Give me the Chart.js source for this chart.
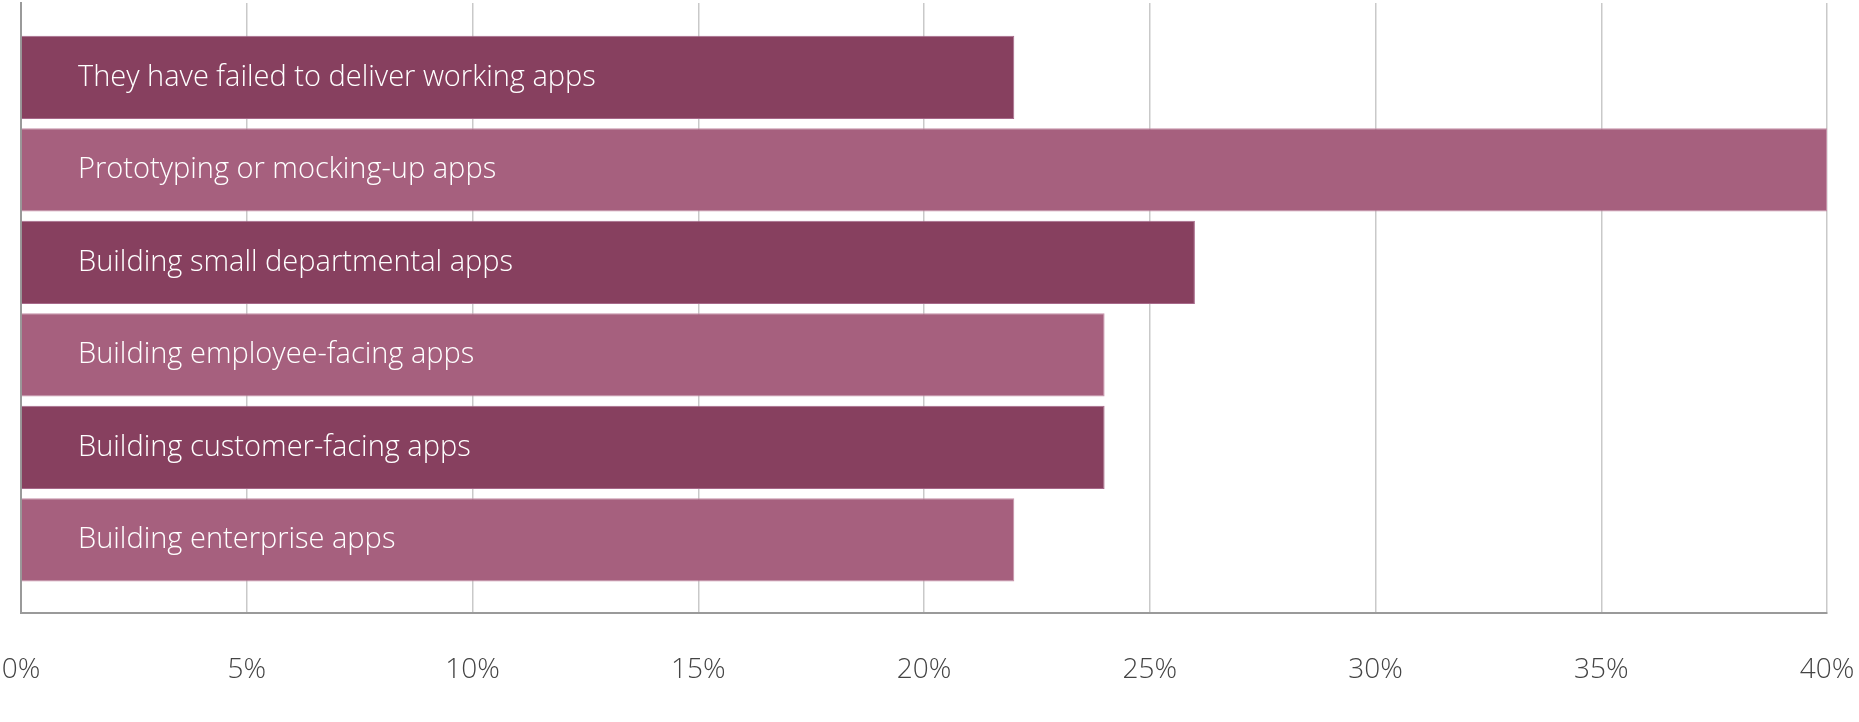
<!DOCTYPE html>
<html>
<head>
<meta charset="utf-8">
<script src="https://cdn.jsdelivr.net/npm/chart.js@4"></script>
<style>
  html, body { margin: 0; padding: 0; background: #fff; }
  #wrap { width: 1859px; height: 722px; }
</style>
</head>
<body>
<div id="wrap"><canvas id="myChart"></canvas></div>
<script>
// categories, top to bottom
const categories = [
  'They have failed to deliver working apps',
  'Prototyping or mocking-up apps',
  'Building small departmental apps',
  'Building employee-facing apps',
  'Building customer-facing apps',
  'Building enterprise apps',
];
// share of respondents, percent
const shares = [22, 40, 26, 24, 24, 22];
const xTicks = [0, 5, 10, 15, 20, 25, 30, 35, 40];

const dark = '#87405f';
const light = '#a6607e';

// bar labels written inside the bars
const barLabels = {
  id: 'barLabels',
  afterDatasetsDraw(chart) {
    const ctx = chart.ctx;
    const meta = chart.getDatasetMeta(0);
    ctx.save();
    ctx.fillStyle = '#ffffff';
    ctx.font = '300 29px "Open Sans", Lato, sans-serif';
    ctx.textBaseline = 'middle';
    ctx.textAlign = 'left';
    meta.data.forEach((bar, i) => {
      ctx.fillText(categories[i], chart.chartArea.left + 57, bar.y);
    });
    ctx.restore();
  },
};

const canvas = document.getElementById('myChart');

const chart = new Chart(canvas, {
  type: 'bar',
  data: {
    datasets: [
      {
        data: shares.map((v, i) => ({ x: v, y: i })),
        backgroundColor: shares.map((v, i) => (i % 2 === 0 ? dark : light)),
        borderColor: shares.map((v, i) => (i % 2 === 0 ? '#a7698a' : '#c690a8')),
        borderWidth: 1,
        borderSkipped: 'start',
        categoryPercentage: 1,
        barPercentage: 0.9,
      },
    ],
  },
  options: {
    indexAxis: 'y',
    responsive: true,
    maintainAspectRatio: false,
    animation: false,
    layout: {
      padding: { left: 0, right: 0, top: 3, bottom: 0 },
    },
    plugins: {
      legend: { display: false },
      tooltip: { enabled: false },
    },
    scales: {
      x: {
        type: 'linear',
        min: 0,
        max: 40,
        afterBuildTicks: (scale) => {
          scale.ticks = xTicks.map((v) => ({ value: v }));
        },
        afterFit: (scale) => {
          scale.height = 109;
          scale.paddingLeft = 21;
          scale.paddingRight = 32;
        },
        grid: {
          color: '#c9c9c9',
          lineWidth: 1.5,
          drawTicks: false,
        },
        border: { display: true, color: '#9a9a9a', width: 2 },
        ticks: {
          padding: 40,
          color: '#444444',
          font: { family: '"Open Sans", Lato, sans-serif', size: 28, weight: '300' },
          callback: (v) => v + '%',
        },
      },
      y: {
        type: 'linear',
        reverse: true,
        offset: false,
        bounds: 'data',
        min: -0.805,
        max: 5.79,
        afterBuildTicks: (scale) => {
          scale.ticks = categories.map((c, i) => ({ value: i }));
        },
        afterFit: (scale) => {
          scale.width = 0;
        },
        grid: { display: false, offset: false },
        border: { display: true, color: '#9a9a9a', width: 2 },
        ticks: { display: false },
      },
    },
  },
  plugins: [barLabels],
});
</script>
</body>
</html>
